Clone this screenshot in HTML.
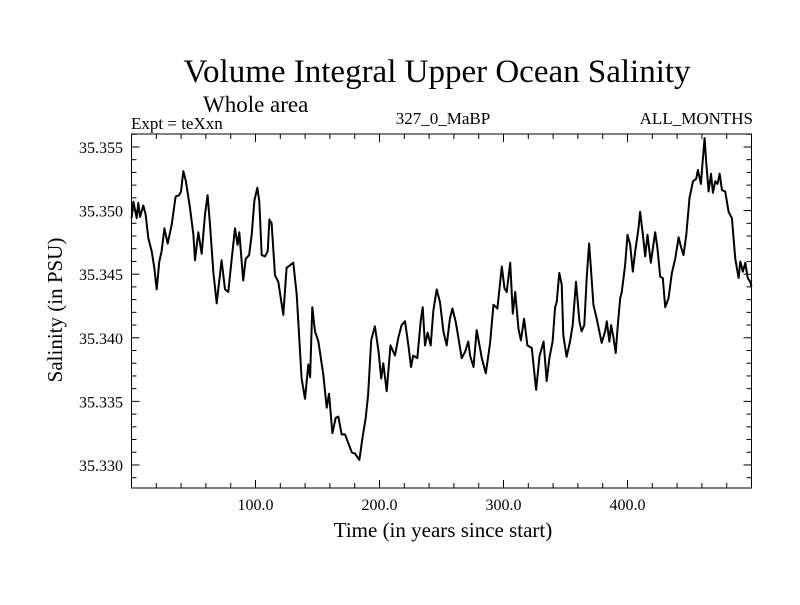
<!DOCTYPE html>
<html><head><meta charset="utf-8"><style>
body{margin:0;background:#fff}
svg text{font-family:"Liberation Serif",serif;fill:#000}
</style></head><body>
<svg id="chart" width="800" height="600" viewBox="0 0 800 600">
<rect width="800" height="600" fill="#fff"/>
<text x="437" y="82" font-size="33" text-anchor="middle">Volume Integral Upper Ocean Salinity</text>
<text x="203" y="112" font-size="23">Whole area</text>
<text x="131" y="129" font-size="17">Expt = teXxn</text>
<text x="443" y="124" font-size="17" text-anchor="middle">327_0_MaBP</text>
<text x="753" y="124" font-size="17" text-anchor="end">ALL_MONTHS</text>
<text transform="translate(62,310) rotate(-90)" font-size="21" text-anchor="middle">Salinity (in PSU)</text>
<text x="443" y="537" font-size="21" text-anchor="middle">Time (in years since start)</text>
<g id="axes"></g>
<path id="series" fill="none" stroke="#000" stroke-width="2" stroke-linejoin="round"/>
<rect x="131.5" y="134" width="620" height="354" fill="none" stroke="#000" stroke-width="1"/>
</svg>
<script>
const years=[0.1,1.5,4.2,5.5,6.9,9.5,11.4,13.6,16.3,18.4,20.3,22.4,24.3,26.5,29.2,32.4,35.6,38.3,39.9,41.8,43.9,47.2,49.9,51.2,53.9,56.6,59.3,61.4,63.3,66.0,68.7,72.7,75.4,78.1,80.8,83.5,85.6,86.9,90.1,92.1,94.8,96.9,99.1,101.5,103.1,105.0,107.7,109.8,111.2,113.0,115.7,118.4,122.4,125.1,127.8,130.5,133.2,137.2,139.9,142.6,144.0,145.8,148.0,150.7,154.7,157.4,159.3,162.0,164.7,166.8,169.5,172.2,174.9,177.7,180.2,183.8,186.2,188.9,190.8,193.3,196.3,199.3,201.4,203.1,205.8,208.9,212.5,215.2,217.8,220.6,223.3,225.4,227.2,230.5,233.2,234.8,236.7,238.8,241.3,243.4,246.1,248.8,251.5,254.2,256.8,258.8,261.4,263.6,266.3,269.0,271.6,273.1,275.8,278.4,282.5,285.7,289.2,291.9,295.1,298.6,300.8,302.6,305.4,307.5,309.4,312.1,314.0,316.6,319.3,322.8,326.3,329.1,332.3,334.8,337.0,339.6,341.6,342.9,345.0,346.9,348.2,350.9,353.6,355.8,358.5,361.2,363.0,365.2,367.1,369.0,370.3,372.5,375.2,379.2,381.9,383.3,385.4,386.8,388.7,390.5,392.2,394.1,395.4,398.1,400.0,402.2,404.3,406.2,408.9,410.2,412.4,414.3,416.1,418.8,422.3,424.2,426.4,428.5,430.4,433.1,435.8,438.5,441.2,443.0,445.2,447.4,450.0,452.8,455.4,456.8,459.2,460.6,462.2,463.5,465.4,467.3,468.9,470.8,472.7,474.3,476.2,478.8,481.5,484.2,486.9,489.6,491.0,493.1,495.0,496.9,499.0,500.4];
const salinity=[35.3494,35.3507,35.3494,35.3506,35.3495,35.3504,35.3497,35.3478,35.3468,35.3455,35.3438,35.3460,35.3468,35.3486,35.3474,35.3489,35.3511,35.3512,35.3515,35.3531,35.3523,35.3502,35.3481,35.3461,35.3483,35.3466,35.3497,35.3512,35.3489,35.3452,35.3427,35.3461,35.3438,35.3436,35.3462,35.3486,35.3473,35.3483,35.3445,35.3462,35.3465,35.3481,35.3508,35.3518,35.3507,35.3465,35.3464,35.3468,35.3493,35.3490,35.3449,35.3444,35.3418,35.3455,35.3457,35.3459,35.3434,35.3368,35.3352,35.3379,35.3369,35.3424,35.3405,35.3397,35.3371,35.3345,35.3356,35.3325,35.3337,35.3338,35.3324,35.3324,35.3317,35.3310,35.3309,35.3304,35.3321,35.3337,35.3355,35.3398,35.3409,35.3389,35.3368,35.3380,35.3358,35.3394,35.3386,35.3400,35.3410,35.3413,35.3394,35.3377,35.3386,35.3384,35.3413,35.3424,35.3394,35.3404,35.3394,35.3421,35.3438,35.3428,35.3405,35.3394,35.3415,35.3423,35.3413,35.3400,35.3384,35.3389,35.3397,35.3386,35.3377,35.3406,35.3384,35.3372,35.3396,35.3426,35.3423,35.3456,35.3439,35.3436,35.3459,35.3419,35.3436,35.3407,35.3398,35.3415,35.3394,35.3392,35.3359,35.3386,35.3397,35.3366,35.3384,35.3397,35.3424,35.3428,35.3451,35.3442,35.3402,35.3385,35.3397,35.3410,35.3444,35.3413,35.3405,35.3410,35.3447,35.3474,35.3457,35.3426,35.3415,35.3396,35.3405,35.3413,35.3397,35.3410,35.3400,35.3388,35.3410,35.3431,35.3436,35.3457,35.3481,35.3473,35.3452,35.3468,35.3486,35.3499,35.3481,35.3464,35.3481,35.3459,35.3483,35.3470,35.3448,35.3447,35.3424,35.3431,35.3451,35.3462,35.3479,35.3472,35.3465,35.3481,35.3510,35.3523,35.3525,35.3532,35.3521,35.3538,35.3557,35.3538,35.3515,35.3529,35.3514,35.3523,35.3521,35.3529,35.3516,35.3515,35.3499,35.3494,35.3462,35.3447,35.3460,35.3452,35.3459,35.3447,35.3444,35.3440];
const xTicks=[100,200,300,400];
const xTickLabels=["100.0","200.0","300.0","400.0"];
const yTicks=[35.330,35.335,35.340,35.345,35.350,35.355];
const yTickLabels=["35.330","35.335","35.340","35.345","35.350","35.355"];
const X0=131.5,X1=751.5,Y0=134,Y1=488,xMin=0,xMax=500,yMin=35.32819,yMax=35.35602;
function sx(v){return X0+(v-xMin)/(xMax-xMin)*(X1-X0);}
function sy(v){return Y1-(v-yMin)/(yMax-yMin)*(Y1-Y0);}
const NS="http://www.w3.org/2000/svg";
const axes=document.getElementById('axes');
function line(x1,y1,x2,y2,name){const l=document.createElementNS(NS,'line');
l.setAttribute('x1',x1);l.setAttribute('y1',y1);l.setAttribute('x2',x2);l.setAttribute('y2',y2);
l.setAttribute('stroke','#000');l.setAttribute('stroke-width','1');


axes.appendChild(l);}
function text(x,y,s,anchor,name){const t=document.createElementNS(NS,'text');
t.setAttribute('x',x);t.setAttribute('y',y);t.setAttribute('font-size','16');t.setAttribute('text-anchor',anchor);t.textContent=s;


axes.appendChild(t);}
for(let v=20;v<500;v+=20){const x=sx(v);const major=v%100===0;const L=major?8:5;
line(x,Y1,x,Y1-L,'x-tick');line(x,Y0,x,Y0+L,'x-tick-top');}
for(let k=0;k<=27;k++){const v=35.329+k*0.001;if(v>yMax)break;const y=sy(v);
const major=Math.abs(Math.round(v*1000)%5)===0;const L=major?8:5;
line(X0,y,X0+L,y,'y-tick');line(X1,y,X1-L,y,'y-tick-right');}
xTicks.forEach((v,i)=>text(sx(v),510,xTickLabels[i],'middle','x-tick-label'));
yTicks.forEach((v,i)=>text(123,sy(v)+6,yTickLabels[i],'end','y-tick-label'));
let d='';
years.forEach((v,i)=>{const x=Math.min(Math.max(sx(v),X0),X1);d+=(i?'L':'M')+x.toFixed(1)+' '+sy(salinity[i]).toFixed(1);});
document.getElementById('series').setAttribute('d',d);
</script>
</body></html>
